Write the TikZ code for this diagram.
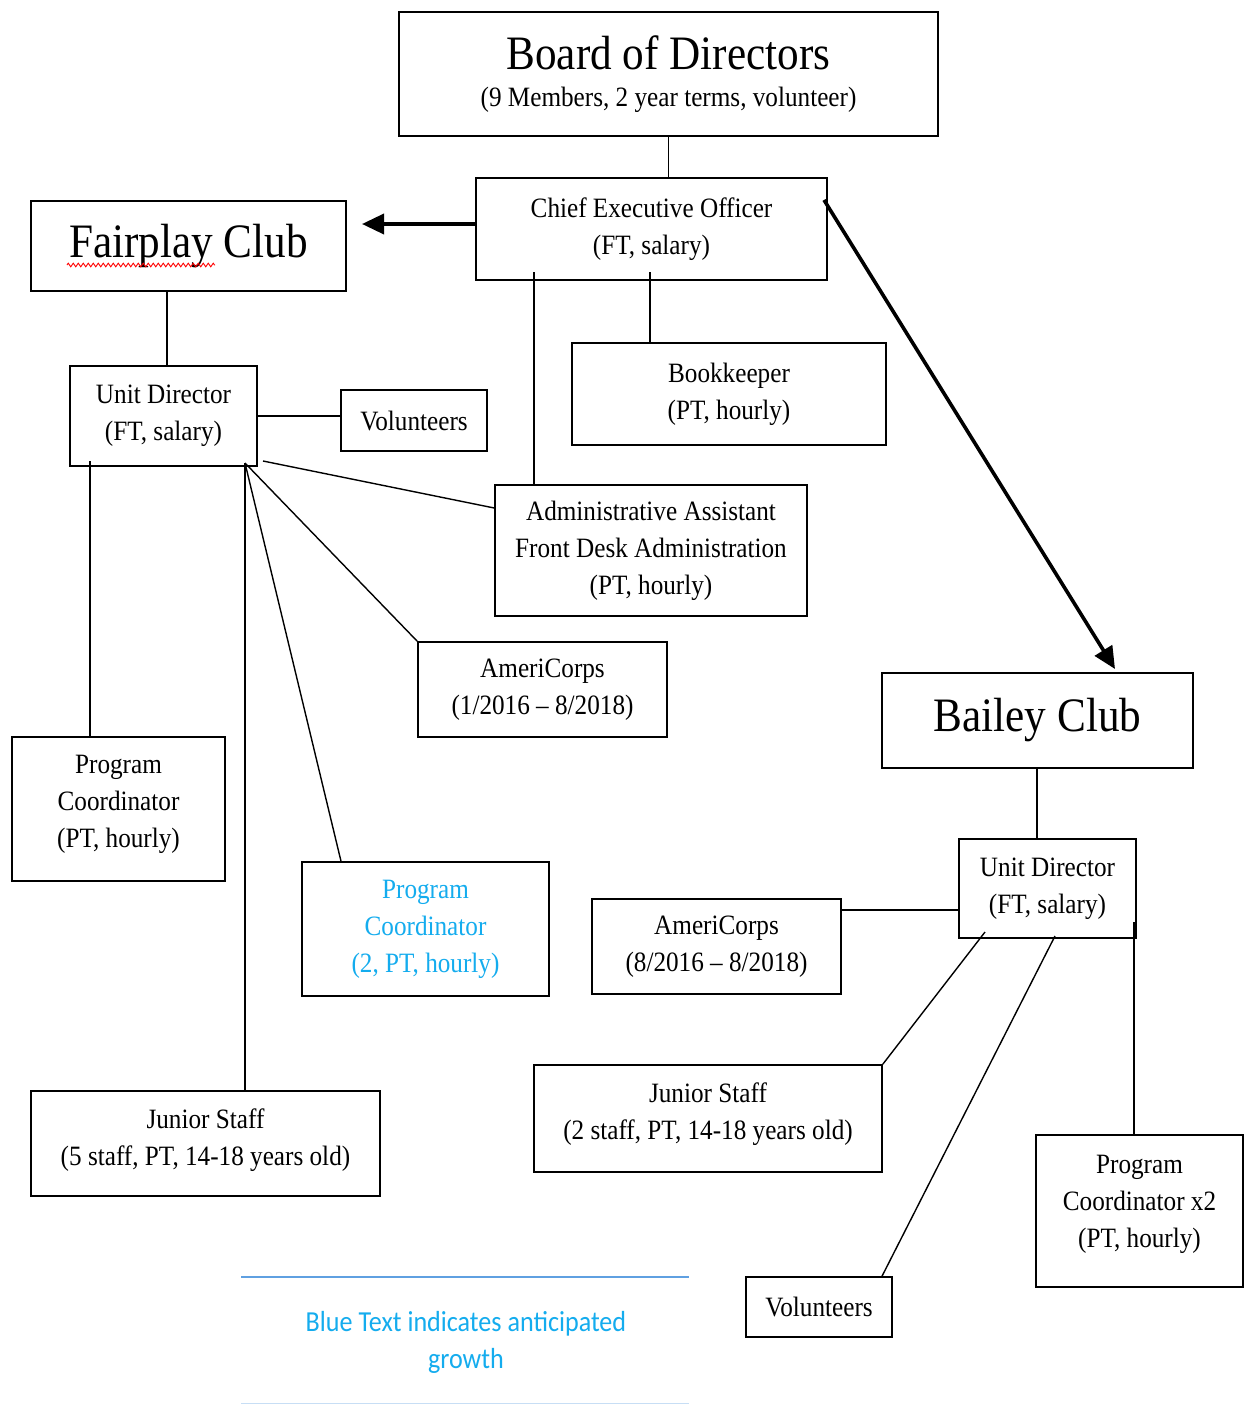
\documentclass[tikz,border=0pt]{standalone}
\usepackage{fontspec}
\setmainfont[FakeStretch=0.9]{Liberation Serif}
\newfontfamily\legendfont[FakeStretch=0.9]{Carlito}
\usetikzlibrary{arrows.meta,calc,decorations.pathmorphing}
\definecolor{growthblue}{RGB}{20,172,238}
\definecolor{rulerblue}{RGB}{95,160,225}
% lift the lines of a box's text up by half of #1
\newcommand\liftup[2]{\raisebox{0pt}[\height][\dimexpr\depth+#1\relax]{\begin{tabular}{@{}c@{}}#2\end{tabular}}}
\begin{document}
\begin{tikzpicture}[x=1pt,y=-1pt,
  box/.style={draw,line width=1.6pt,inner sep=0pt,align=center,font=\fontsize{28}{37}\selectfont},
  bigbox/.style={box,font=\fontsize{48}{50}\selectfont},
  link/.style={line width=1.4pt},
  bigarrow/.style={line width=3.6pt,-{Triangle[length=22pt,width=20pt]}}]
\useasboundingbox[fill=white] (0,0) rectangle (1244,1405);

% nodes
\node[box,minimum width=539pt,minimum height=124pt] (board) at (668.5,74)
  {{\fontsize{48}{38}\selectfont Board of Directors}\\(9 Members, 2 year terms, volunteer)};
\node[box,minimum width=351pt,minimum height=102pt] (ceo) at (651.5,229)
  {Chief Executive Officer\\(FT, salary)};
\node[bigbox,minimum width=315pt,minimum height=90pt] (fair) at (188.5,246) {Fairplay Club};
\node[box,minimum width=187pt,minimum height=100pt] (ud1) at (163.5,416) {Unit Director\\(FT, salary)};
\node[box,minimum width=146pt,minimum height=61pt] (vol1) at (414,420.5) {Volunteers};
\node[box,minimum width=314pt,minimum height=102pt] (book) at (729,394) {Bookkeeper\\(PT, hourly)};
\node[box,minimum width=312pt,minimum height=131pt] (admin) at (651,550.5)
  {Administrative Assistant\\Front Desk Administration\\(PT, hourly)};
\node[box,minimum width=249pt,minimum height=95pt] (amf) at (542.5,689.5) {AmeriCorps\\(1/2016 – 8/2018)};
\node[box,minimum width=213pt,minimum height=144pt] (pcf) at (118.5,809)
  {\liftup{12pt}{Program\\Coordinator\\(PT, hourly)}};
\node[box,text=growthblue,minimum width=247pt,minimum height=134pt] (bpc) at (425.5,929)
  {Program\\Coordinator\\(2, PT, hourly)};
\node[box,minimum width=349pt,minimum height=105pt] (jf) at (205.5,1143.5)
  {\liftup{7pt}{Junior Staff\\(5 staff, PT, 14-18 years old)}};
\node[bigbox,minimum width=311pt,minimum height=95pt] (bailey) at (1037.5,720.5) {Bailey Club};
\node[box,minimum width=177pt,minimum height=99pt] (ud2) at (1047.5,888.5) {Unit Director\\(FT, salary)};
\node[box,minimum width=249pt,minimum height=95pt] (amb) at (716.5,946.5) {AmeriCorps\\(8/2016 – 8/2018)};
\node[box,minimum width=348pt,minimum height=107pt] (jb) at (708,1118.5)
  {\liftup{9pt}{Junior Staff\\(2 staff, PT, 14-18 years old)}};
\node[box,minimum width=146pt,minimum height=60pt] (vb) at (819,1307) {Volunteers};
\node[box,minimum width=207pt,minimum height=152pt] (pc2) at (1139.5,1211)
  {\liftup{16pt}{Program\\Coordinator x2\\(PT, hourly)}};

% spell-check underline
\draw[red,line width=0.9pt,decorate,decoration={zigzag,segment length=5pt,amplitude=1.8pt}]
  (67,265) -- (215,265);

% connectors
\draw[link] (board.south) -- (board.south |- ceo.north);
\coordinate (fairtip) at (362,224);
\draw[bigarrow] (ceo.west |- fairtip) -- (fairtip);
\coordinate (ceoR) at (824,200);
\coordinate (baileytip) at (1115,669);
\draw[bigarrow] (ceoR) -- (baileytip);
\draw[link] (fair.south -| 167,0) -- (ud1.north -| 167,0);
\draw[link] (ud1.east) -- (vol1.west |- ud1.east);
\coordinate (ceoB) at (650,272);
\draw[link] (ceoB) -- (book.north -| ceoB);
\coordinate (ceoA) at (534,272);
\draw[link] (ceoA) -- (admin.north -| ceoA);
\coordinate (ud1a) at (263,461);
\draw[link] (ud1a) -- (admin.west |- 0,508);
\coordinate (hub) at (245,463);
\draw[link] (hub) -- (amf.north west);
\draw[link] (hub) -- (bpc.north -| 341,0);
\draw[link] (hub) -- (jf.north -| hub);
\coordinate (ud1b) at (90,461);
\draw[link] (ud1b) -- (pcf.north -| ud1b);
\draw[link] (bailey.south -| 1037,0) -- (ud2.north -| 1037,0);
\draw[link] (ud2.west |- 0,910) -- (amb.east |- 0,910);
\coordinate (ud2a) at (985,932);
\draw[link] (ud2a) -- (jb.north east);
\coordinate (ud2b) at (1055,936);
\draw[link] (ud2b) -- (vb.north -| 882,0);
\coordinate (ud2c) at (1134,922);
\draw[link] (ud2c) -- (pc2.north -| ud2c);

% legend
\draw[rulerblue,line width=1.8pt] (241,1277) -- (689,1277);
\draw[rulerblue!35,line width=1pt] (241,1403) -- (689,1403);
\node[text=growthblue,align=center,inner sep=0pt,font=\legendfont\fontsize{29}{37}\selectfont] (legend) at (466,1342)
  {Blue Text indicates anticipated\\growth};
\end{tikzpicture}
\end{document}
